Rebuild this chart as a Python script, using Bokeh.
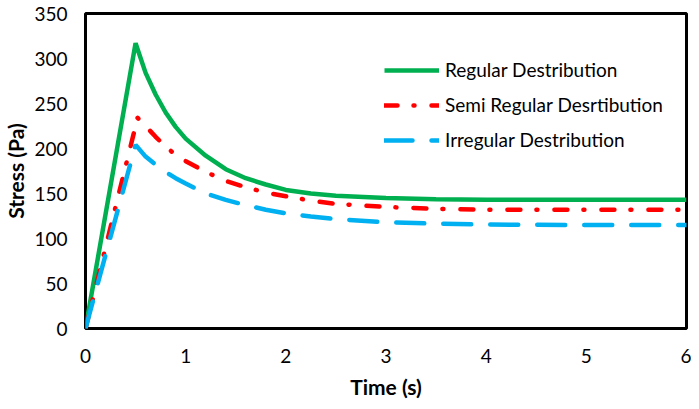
from bokeh.plotting import figure
from bokeh.models import FixedTicker, Legend, LegendItem, Range1d
from bokeh.embed import file_html
from bokeh.resources import INLINE

# ---- data ----
t_regular = [0, 0.5, 0.6, 0.7, 0.8, 0.9, 1.0, 1.2, 1.4, 1.6, 1.8, 2.0, 2.25, 2.5, 3.0, 3.5, 4.0, 5.0, 6.0]
s_regular = [0, 317, 284, 260, 240, 224, 211, 192, 177, 167, 160, 154, 150, 147.5, 145, 143.5, 143, 143, 143]

t_semi = [0, 0.52, 0.6, 0.7, 0.8, 0.9, 1.0, 1.2, 1.4, 1.6, 1.8, 2.0, 2.25, 2.5, 3.0, 3.5, 4.0, 5.0, 6.0]
s_semi = [0, 234, 225, 213, 202, 193, 186, 174, 164, 157, 151, 147, 142, 138.5, 135, 133, 132, 132, 132]

t_irregular = [0, 0.5, 0.6, 0.7, 0.8, 0.9, 1.0, 1.2, 1.4, 1.6, 1.8, 2.0, 2.25, 2.5, 3.0, 3.5, 4.0, 5.0, 6.0]
s_irregular = [0, 204, 191, 182, 174, 167, 161, 150, 143, 137, 132, 128, 124.5, 121.5, 118, 116.5, 115.5, 115, 115]

series_names = ["Regular Destribution", "Semi Regular Desrtibution", "Irregular Destribution"]
x_ticks = [0, 1, 2, 3, 4, 5, 6]
y_ticks = [0, 50, 100, 150, 200, 250, 300, 350]
x_title = "Time (s)"
y_title = "Stress (Pa)"

FONT = "Lato"

p = figure(width=691, height=401, output_backend="svg", toolbar_location=None,
           x_range=Range1d(0, 6), y_range=Range1d(0, 350),
           min_border_left=60, min_border_right=5, min_border_top=13, min_border_bottom=40)

p.background_fill_color = "white"
p.border_fill_color = "white"
p.outline_line_color = "black"
p.outline_line_width = 3
p.xgrid.visible = False
p.ygrid.visible = False

for ax in (p.xaxis, p.yaxis):
    ax.axis_line_color = None
    ax.major_tick_line_color = None
    ax.minor_tick_line_color = None
    ax.major_tick_out = 0
    ax.major_tick_in = 0
    ax.major_label_text_font = FONT
    ax.major_label_text_font_size = "19px"
    ax.major_label_text_color = "black"
    ax.axis_label_text_font = FONT
    ax.axis_label_text_font_style = "bold"
    ax.axis_label_text_font_size = "21px"
    ax.axis_label_text_color = "black"

p.xaxis.ticker = FixedTicker(ticks=x_ticks)
p.yaxis.ticker = FixedTicker(ticks=y_ticks)
p.xaxis.major_label_standoff = 20
p.yaxis.major_label_standoff = 18
p.xaxis.axis_label = x_title
p.yaxis.axis_label = y_title
p.xaxis.axis_label_standoff = 8
p.yaxis.axis_label_standoff = 3

r1 = p.line(t_regular, s_regular, line_color="#00B050", line_width=4.5)
r2 = p.line(t_semi, s_semi, line_color="#FF0000", line_width=4.5,
            line_dash="13 16 1 17", line_cap="round")
r3 = p.line(t_irregular, s_irregular, line_color="#00B0F0", line_width=4.5,
            line_dash="28 19", line_cap="round")

legend = Legend(items=[LegendItem(label=series_names[0], renderers=[r1]),
                       LegendItem(label=series_names[1], renderers=[r2]),
                       LegendItem(label=series_names[2], renderers=[r3])],
                location=(299, 177))
legend.border_line_color = None
legend.background_fill_alpha = 0
legend.margin = 0
legend.padding = 0
legend.glyph_width = 55
legend.glyph_height = 22
legend.label_height = 22
legend.spacing = 12
legend.label_standoff = 6
legend.label_text_font = FONT
legend.label_text_font_size = "19px"
legend.label_text_color = "black"
p.add_layout(legend)

open("out.html", "w").write(file_html(p, INLINE))
